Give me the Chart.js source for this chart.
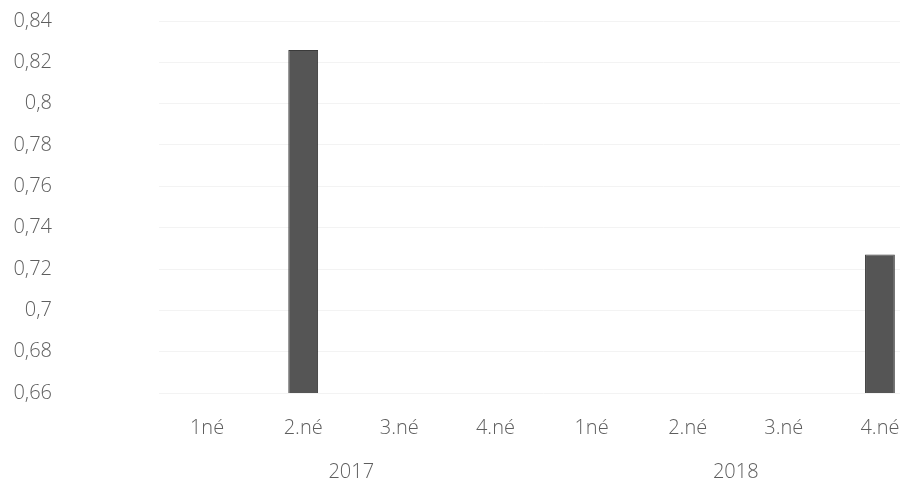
<!DOCTYPE html>
<html>
<head>
<meta charset="utf-8">
<script src="https://cdn.jsdelivr.net/npm/chart.js@4"></script>
<style>
  html, body { margin: 0; padding: 0; background: #fff; overflow: hidden; }
  #wrap { width: 930px; height: 483px; }
</style>
</head>
<body>
<div id="wrap"><canvas id="chart" width="930" height="483"></canvas></div>
<script>
// Negyedévek és évek
const quarters = ["1né", "2.né", "3.né", "4.né", "1né", "2.né", "3.né", "4.né"];
const years = ["2017", "2018"];
const values = [null, 0.826, null, null, null, null, null, 0.727];
const yTicks = { min: 0.66, max: 0.84, step: 0.02 };

const textColor = "#5e5e5e";
const font = { family: "'Open Sans', 'DejaVu Sans', sans-serif", size: 20, weight: "300", lineHeight: 1.2 };

function fmt(v){ return String(Number(v.toFixed(2))).replace(".", ","); }

new Chart(document.getElementById("chart"), {
  type: "bar",
  data: {
    labels: quarters,
    datasets: [{
      data: values,
      backgroundColor: "#555555",
      borderColor: "#3a3a3a",
      borderWidth: 1,
      categoryPercentage: 1,
      barPercentage: 0.31
    }]
  },
  options: {
    responsive: false,
    animation: false,
    layout: { padding: { top: 21, right: 2, left: 0, bottom: 0 } },
    plugins: { legend: { display: false }, tooltip: { enabled: false } },
    scales: {
      x: {
        grid: { display: false },
        border: { display: false },
        ticks: { color: textColor, font: font, padding: 15, maxRotation: 0, autoSkip: false },
        afterFit: s => { s.height = 45; s.paddingLeft = 0; s.paddingRight = 0; }
      },
      x2: {
        type: "category",
        labels: years,
        position: "bottom",
        grid: { display: false },
        border: { display: false },
        ticks: { color: textColor, font: font, padding: 14, maxRotation: 0 },
        afterFit: s => { s.height = 45; s.paddingLeft = 0; s.paddingRight = 0; }
      },
      y: {
        min: yTicks.min,
        max: yTicks.max,
        grid: { color: "#f3f3f3", drawTicks: false },
        border: { display: false },
        ticks: {
          stepSize: yTicks.step,
          color: textColor,
          font: font,
          padding: 107,
          callback: v => fmt(v)
        },
        // großes padding nur für die Beschriftung, nicht oben/unten
        afterFit: s => { s.width = 159; s.paddingTop = 0; s.paddingBottom = 0; }
      }
    }
  }
});
</script>
</body>
</html>
